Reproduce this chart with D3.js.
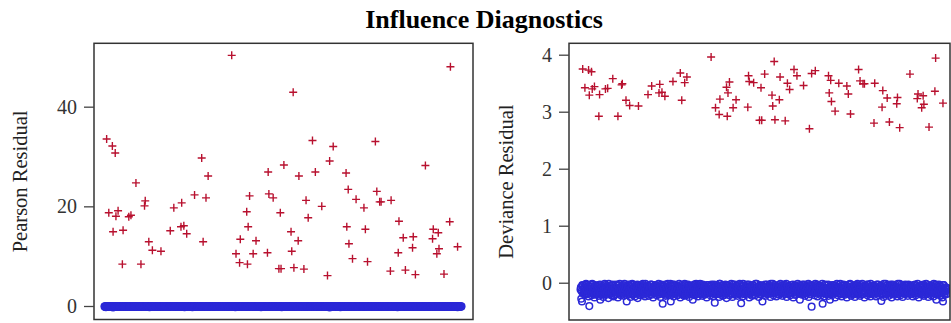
<!DOCTYPE html>
<html>
<head>
<meta charset="utf-8">
<script src="https://cdn.jsdelivr.net/npm/d3@7"></script>
<style>
  body { margin: 0; background: #fff; }
  svg { display: block; font-family: "Liberation Serif", "Times New Roman", serif; }
</style>
</head>
<body>
<svg id="chart" width="951" height="323"></svg>
<script>
const titleText = "Influence Diagnostics";
const pearsonTicks = [0, 20, 40];
const devianceTicks = [0, 1, 2, 3, 4];
const obsCount = 1000;

// observations with the event (red crosses)
const eventObs = [7,13,23,25,31,33,39,53,51,69,75,89,103,115,113,125,135,159,185,195,217,215,223,231,253,273,277,285,291,
  357,369,379,381,399,403,401,407,417,425,457,459,461,473,489,493,495,503,523,525,529,531,543,545,559,565,571,583,591,609,625,631,641,
  677,679,683,685,695,705,727,731,737,759,763,771,775,803,801,823,825,837,843,863,865,871,899,921,919,931,935,937,951,967,969,989];
const eventPearson = [33.5,18.7,32.1,14.9,30.7,18.0,19.1,15.2,8.4,17.9,18.2,24.7,8.4,21.1,20.1,12.9,11.2,11.0,15.1,19.7,20.7,15.9,16.1,14.5,22.3,29.7,12.9,21.7,26.1,
  50.3,10.5,8.7,13.4,18.9,15.9,8.4,22.1,10.5,13.1,10.7,26.9,22.5,21.7,7.5,18.7,7.5,28.3,14.9,11.0,42.9,7.7,13.1,26.1,7.4,21.2,17.7,33.2,26.9,20.0,6.1,29.1,32.0,
  26.7,15.9,23.4,12.5,9.5,21.4,19.7,15.4,8.9,33.0,23.0,20.9,20.9,21.2,7.0,10.7,17.0,13.7,7.2,11.7,13.9,6.3,28.2,15.4,13.5,10.5,14.7,11.5,6.4,16.9,48.0,11.9];
const eventDeviance = [3.75,3.42,3.73,3.29,3.70,3.40,3.44,3.30,2.92,3.40,3.41,3.58,2.92,3.49,3.47,3.20,3.11,3.10,3.30,3.45,3.48,3.33,3.34,3.27,3.53,3.68,3.20,3.51,3.61,
  3.96,3.07,2.95,3.22,3.43,3.33,2.92,3.52,3.07,3.21,3.08,3.63,3.53,3.51,2.85,3.42,2.85,3.66,3.29,3.10,3.88,2.86,3.21,3.61,2.84,3.50,3.39,3.74,3.63,3.46,2.70,3.67,3.72,
  3.63,3.33,3.55,3.18,3.01,3.50,3.45,3.31,2.96,3.74,3.54,3.49,3.49,3.50,2.80,3.08,3.37,3.24,2.82,3.14,3.25,2.72,3.66,3.31,3.23,3.07,3.28,3.13,2.73,3.36,3.94,3.15];

// observations without the event (blue circles)
// odd-numbered obs: 1, 3, 5, ...
const nonEventDevOdd = [
  -.12,-.28,-.33,-.05,-.17,-.09,-.21,-.14,-.03,-.19,-.11,-.24,-.41,-.07,-.15,-.22,-.02,-.18,-.10,-.26,-.13,-.06,-.20,-.16,-.08,
  -.23,-.04,-.30,-.12,-.17,-.09,-.25,-.14,-.02,-.19,-.21,-.07,-.13,-.27,-.11,-.05,-.18,-.22,-.15,-.03,-.24,-.10,-.16,-.08,-.20,
  -.13,-.26,-.04,-.19,-.11,-.22,-.06,-.17,-.14,-.23,-.02,-.18,-.09,-.33,-.12,-.20,-.05,-.15,-.25,-.10,-.03,-.21,-.16,-.07,-.24,
  -.12,-.18,-.04,-.27,-.09,-.15,-.22,-.06,-.13,-.20,-.02,-.17,-.11,-.24,-.08,-.19,-.14,-.05,-.23,-.10,-.16,-.03,-.21,-.12,-.26,
  -.07,-.18,-.13,-.04,-.22,-.15,-.09,-.20,-.11,-.25,-.03,-.16,-.37,-.06,-.19,-.12,-.23,-.08,-.14,-.02,-.21,-.17,-.10,-.33,-.05,
  -.16,-.11,-.24,-.03,-.19,-.08,-.14,-.22,-.06,-.17,-.12,-.26,-.04,-.20,-.10,-.15,-.23,-.02,-.18,-.09,-.21,-.13,-.05,-.25,-.11,
  -.17,-.07,-.20,-.30,-.14,-.03,-.22,-.10,-.18,-.06,-.24,-.12,-.16,-.02,-.19,-.09,-.23,-.13,-.05,-.21,-.15,-.08,-.26,-.11,-.04,
  -.18,-.12,-.22,-.06,-.15,-.09,-.24,-.03,-.35,-.17,-.11,-.20,-.07,-.14,-.25,-.02,-.19,-.10,-.16,-.23,-.05,-.13,-.21,-.08,-.27,
  -.04,-.16,-.11,-.22,-.07,-.19,-.13,-.25,-.03,-.17,-.09,-.21,-.14,-.06,-.23,-.10,-.18,-.02,-.15,-.36,-.12,-.24,-.05,-.20,-.08,
  -.14,-.21,-.03,-.17,-.10,-.26,-.06,-.19,-.12,-.23,-.04,-.15,-.09,-.22,-.13,-.02,-.18,-.11,-.25,-.07,-.16,-.20,-.05,-.33,-.12,
  -.19,-.08,-.23,-.14,-.03,-.20,-.11,-.17,-.06,-.25,-.10,-.15,-.02,-.22,-.13,-.18,-.07,-.24,-.09,-.16,-.04,-.21,-.12,-.19,-.06,
  -.23,-.11,-.16,-.03,-.20,-.09,-.25,-.14,-.07,-.18,-.12,-.22,-.04,-.17,-.10,-.26,-.13,-.05,-.21,-.08,-.15,-.02,-.19,-.11,-.30,
  -.14,-.06,-.21,-.10,-.17,-.03,-.23,-.12,-.19,-.08,-.15,-.25,-.04,-.20,-.11,-.42,-.07,-.18,-.13,-.22,-.02,-.16,-.09,-.24,-.12,
  -.05,-.19,-.14,-.22,-.08,-.37,-.11,-.24,-.03,-.16,-.20,-.09,-.13,-.23,-.17,-.30,-.06,-.18,-.12,-.21,-.04,-.15,-.26,-.10,-.17,
  -.07,-.22,-.13,-.19,-.02,-.16,-.24,-.10,-.18,-.05,-.21,-.12,-.15,-.26,-.08,-.20,-.03,-.17,-.11,-.23,-.14,-.06,-.19,-.09,-.25,
  -.12,-.18,-.04,-.21,-.15,-.08,-.23,-.11,-.17,-.02,-.20,-.13,-.26,-.06,-.16,-.10,-.22,-.03,-.19,-.14,-.24,-.07,-.18,-.12,-.05,
  -.21,-.09,-.16,-.24,-.03,-.18,-.11,-.22,-.14,-.06,-.32,-.19,-.08,-.25,-.13,-.17,-.02,-.20,-.10,-.15,-.23,-.05,-.18,-.12,-.26,
  -.09,-.16,-.04,-.21,-.13,-.19,-.07,-.24,-.11,-.17,-.02,-.22,-.14,-.08,-.25,-.12,-.18,-.05,-.20,-.15,-.10,-.23,-.03,-.17,-.13,
  -.20,-.06,-.15,-.24,-.11,-.18,-.03,-.22,-.14,-.09,-.19,-.26,-.07,-.16,-.12,-.21,-.04,-.17,-.23,-.10,-.15,-.02,-.20,-.13,-.25,
  -.08,-.18,-.12,-.22,-.05,-.16,-.24,-.10,-.19,-.03,-.30,-.14,-.21,-.09,-.17,-.06,-.23,-.12,-.26,-.33,-.04,-.19,-.15,-.11,-.20
];
const nonEventPearOdd = [
  -.09,-.20,-.23,-.04,-.12,-.06,-.15,-.10,-.02,-.13,-.08,-.17,-.29,-.05,-.11,-.16,-.01,-.13,-.07,-.18,-.09,-.04,-.14,-.11,-.06,
  -.16,-.03,-.21,-.09,-.12,-.06,-.18,-.10,-.01,-.13,-.15,-.05,-.09,-.19,-.08,-.04,-.13,-.16,-.11,-.02,-.17,-.07,-.11,-.06,-.14,
  -.09,-.18,-.03,-.13,-.08,-.16,-.04,-.12,-.10,-.16,-.01,-.13,-.06,-.23,-.09,-.14,-.04,-.11,-.18,-.07,-.02,-.15,-.11,-.05,-.17,
  -.09,-.13,-.03,-.19,-.06,-.11,-.16,-.04,-.09,-.14,-.01,-.12,-.08,-.17,-.06,-.13,-.10,-.04,-.16,-.07,-.11,-.02,-.15,-.09,-.18,
  -.05,-.13,-.09,-.03,-.16,-.11,-.06,-.14,-.08,-.18,-.02,-.11,-.26,-.04,-.13,-.09,-.16,-.06,-.10,-.01,-.15,-.12,-.07,-.23,-.04,
  -.11,-.08,-.17,-.02,-.13,-.06,-.10,-.16,-.04,-.12,-.09,-.18,-.03,-.14,-.07,-.11,-.16,-.01,-.13,-.06,-.15,-.09,-.04,-.18,-.08,
  -.12,-.05,-.14,-.21,-.10,-.02,-.16,-.07,-.13,-.04,-.17,-.09,-.11,-.01,-.13,-.06,-.16,-.09,-.04,-.15,-.11,-.06,-.18,-.08,-.03,
  -.13,-.09,-.16,-.04,-.11,-.06,-.17,-.02,-.25,-.12,-.08,-.14,-.05,-.10,-.18,-.01,-.13,-.07,-.11,-.16,-.04,-.09,-.15,-.06,-.19,
  -.03,-.11,-.08,-.16,-.05,-.13,-.09,-.18,-.02,-.12,-.06,-.15,-.10,-.04,-.16,-.07,-.13,-.01,-.11,-.26,-.09,-.17,-.04,-.14,-.06,
  -.10,-.15,-.02,-.12,-.07,-.18,-.04,-.13,-.09,-.16,-.03,-.11,-.06,-.16,-.09,-.01,-.13,-.08,-.18,-.05,-.11,-.14,-.04,-.23,-.09,
  -.13,-.06,-.16,-.10,-.02,-.14,-.08,-.12,-.04,-.18,-.07,-.11,-.01,-.16,-.09,-.13,-.05,-.17,-.06,-.11,-.03,-.15,-.09,-.13,-.04,
  -.16,-.08,-.11,-.02,-.14,-.06,-.18,-.10,-.05,-.13,-.09,-.16,-.03,-.12,-.07,-.18,-.09,-.04,-.15,-.06,-.11,-.01,-.13,-.08,-.21,
  -.10,-.04,-.15,-.07,-.12,-.02,-.16,-.09,-.13,-.06,-.11,-.18,-.03,-.14,-.08,-.30,-.05,-.13,-.09,-.16,-.01,-.11,-.06,-.17,-.09,
  -.04,-.13,-.10,-.16,-.06,-.26,-.08,-.17,-.02,-.11,-.14,-.06,-.09,-.16,-.12,-.21,-.04,-.13,-.09,-.15,-.03,-.11,-.18,-.07,-.12,
  -.05,-.16,-.09,-.13,-.01,-.11,-.17,-.07,-.13,-.04,-.15,-.09,-.11,-.18,-.06,-.14,-.02,-.12,-.08,-.16,-.10,-.04,-.13,-.06,-.18,
  -.09,-.13,-.03,-.15,-.11,-.06,-.16,-.08,-.12,-.01,-.14,-.09,-.18,-.04,-.11,-.07,-.16,-.02,-.13,-.10,-.17,-.05,-.13,-.09,-.04,
  -.15,-.06,-.11,-.17,-.02,-.13,-.08,-.16,-.10,-.04,-.23,-.13,-.06,-.18,-.09,-.12,-.01,-.14,-.07,-.11,-.16,-.04,-.13,-.09,-.18,
  -.06,-.11,-.03,-.15,-.09,-.13,-.05,-.17,-.08,-.12,-.01,-.16,-.10,-.06,-.18,-.09,-.13,-.04,-.14,-.11,-.07,-.16,-.02,-.12,-.09,
  -.14,-.04,-.11,-.17,-.08,-.13,-.02,-.16,-.10,-.06,-.13,-.18,-.05,-.11,-.09,-.15,-.03,-.12,-.16,-.07,-.11,-.01,-.14,-.09,-.18,
  -.06,-.13,-.09,-.16,-.04,-.11,-.17,-.07,-.13,-.02,-.21,-.10,-.15,-.06,-.12,-.04,-.16,-.09,-.18,-.23,-.03,-.13,-.11,-.08,-.14
];
// even-numbered obs: 2, 4, 6, ...
const nonEventDevEven = [
  -.08,-.15,-.04,-.19,-.11,-.06,-.16,-.02,-.13,-.20,-.09,-.05,-.17,-.12,-.03,-.18,-.10,-.14,-.07,-.21,-.04,-.15,-.11,-.19,-.06,
  -.14,-.03,-.18,-.09,-.21,-.06,-.12,-.16,-.04,-.10,-.19,-.07,-.15,-.02,-.13,-.20,-.08,-.17,-.05,-.11,-.22,-.09,-.14,-.03,-.17,
  -.05,-.17,-.10,-.02,-.15,-.20,-.08,-.13,-.04,-.18,-.11,-.06,-.21,-.14,-.09,-.03,-.16,-.12,-.19,-.07,-.02,-.14,-.20,-.10,-.05,
  -.16,-.09,-.03,-.20,-.12,-.06,-.18,-.14,-.04,-.10,-.21,-.07,-.15,-.02,-.19,-.11,-.05,-.17,-.13,-.08,-.20,-.03,-.16,-.09,-.14,
  -.10,-.04,-.19,-.13,-.07,-.17,-.02,-.15,-.20,-.06,-.12,-.18,-.05,-.10,-.16,-.03,-.21,-.09,-.14,-.19,-.06,-.11,-.02,-.15,-.18,
  -.03,-.20,-.07,-.14,-.10,-.18,-.05,-.12,-.21,-.02,-.16,-.08,-.19,-.13,-.06,-.17,-.04,-.11,-.22,-.09,-.15,-.03,-.18,-.07,-.13,
  -.19,-.11,-.05,-.16,-.08,-.21,-.13,-.02,-.17,-.10,-.04,-.14,-.20,-.07,-.12,-.18,-.03,-.15,-.09,-.06,-.19,-.13,-.04,-.17,-.10,
  -.07,-.15,-.19,-.03,-.12,-.17,-.06,-.20,-.10,-.14,-.04,-.18,-.09,-.13,-.02,-.16,-.21,-.05,-.11,-.08,-.19,-.14,-.03,-.17,-.10,
  -.13,-.05,-.18,-.09,-.15,-.02,-.20,-.11,-.07,-.16,-.03,-.19,-.12,-.06,-.17,-.10,-.04,-.14,-.21,-.08,-.13,-.02,-.16,-.10,-.19,
  -.06,-.17,-.10,-.14,-.03,-.19,-.08,-.12,-.16,-.05,-.21,-.09,-.14,-.02,-.18,-.11,-.07,-.15,-.20,-.04,-.13,-.10,-.17,-.06,-.15,
  -.12,-.03,-.17,-.07,-.20,-.14,-.05,-.10,-.18,-.02,-.13,-.19,-.08,-.15,-.04,-.16,-.11,-.06,-.20,-.13,-.09,-.17,-.02,-.14,-.08,
  -.04,-.18,-.09,-.15,-.11,-.02,-.17,-.06,-.20,-.13,-.07,-.16,-.10,-.19,-.03,-.14,-.08,-.21,-.05,-.12,-.17,-.09,-.14,-.04,-.16,
  -.17,-.10,-.03,-.14,-.19,-.08,-.15,-.05,-.11,-.18,-.02,-.12,-.20,-.07,-.16,-.04,-.13,-.09,-.19,-.06,-.15,-.10,-.03,-.17,-.08,
  -.11,-.16,-.06,-.19,-.02,-.13,-.17,-.09,-.14,-.05,-.18,-.10,-.03,-.15,-.20,-.07,-.12,-.16,-.04,-.09,-.19,-.13,-.06,-.14,-.02,
  -.15,-.04,-.18,-.08,-.12,-.20,-.06,-.14,-.03,-.17,-.10,-.16,-.05,-.19,-.11,-.07,-.15,-.02,-.13,-.18,-.08,-.20,-.12,-.04,-.16,
  -.09,-.14,-.02,-.17,-.06,-.19,-.11,-.04,-.15,-.20,-.08,-.13,-.05,-.18,-.10,-.03,-.16,-.12,-.07,-.20,-.02,-.15,-.09,-.17,-.11,
  -.16,-.06,-.13,-.19,-.09,-.03,-.15,-.11,-.18,-.05,-.14,-.08,-.20,-.02,-.17,-.12,-.06,-.19,-.04,-.13,-.16,-.09,-.03,-.20,-.10,
  -.03,-.19,-.12,-.07,-.17,-.10,-.14,-.02,-.20,-.08,-.15,-.04,-.11,-.18,-.06,-.13,-.16,-.03,-.19,-.09,-.14,-.05,-.17,-.11,-.20,
  -.12,-.08,-.20,-.04,-.16,-.13,-.06,-.18,-.10,-.02,-.15,-.11,-.19,-.05,-.14,-.08,-.17,-.03,-.20,-.12,-.07,-.16,-.09,-.14,-.04,
  -.17,-.11,-.05,-.14,-.19,-.08,-.02,-.16,-.12,-.20,-.06,-.15,-.09,-.03,-.18,-.13,-.07,-.17,-.10,-.04,-.15,-.21,-.08,-.13,-.09
];
const nonEventPearEven = [
  -.06,-.11,-.03,-.13,-.08,-.04,-.11,-.01,-.09,-.14,-.06,-.04,-.12,-.09,-.02,-.13,-.07,-.10,-.05,-.15,-.03,-.11,-.08,-.13,-.04,
  -.10,-.02,-.13,-.06,-.15,-.04,-.09,-.11,-.03,-.07,-.13,-.05,-.11,-.01,-.09,-.14,-.06,-.12,-.04,-.08,-.16,-.06,-.10,-.02,-.12,
  -.04,-.12,-.07,-.01,-.11,-.14,-.06,-.09,-.03,-.13,-.08,-.04,-.15,-.10,-.06,-.02,-.11,-.09,-.13,-.05,-.01,-.10,-.14,-.07,-.04,
  -.11,-.06,-.02,-.14,-.09,-.04,-.13,-.10,-.03,-.07,-.15,-.05,-.11,-.01,-.13,-.08,-.04,-.12,-.09,-.06,-.14,-.02,-.11,-.06,-.10,
  -.07,-.03,-.13,-.09,-.05,-.12,-.01,-.11,-.14,-.04,-.09,-.13,-.04,-.07,-.11,-.02,-.15,-.06,-.10,-.13,-.04,-.08,-.01,-.11,-.13,
  -.02,-.14,-.05,-.10,-.07,-.13,-.04,-.09,-.15,-.01,-.11,-.06,-.13,-.09,-.04,-.12,-.03,-.08,-.16,-.06,-.11,-.02,-.13,-.05,-.09,
  -.13,-.08,-.04,-.11,-.06,-.15,-.09,-.01,-.12,-.07,-.03,-.10,-.14,-.05,-.09,-.13,-.02,-.11,-.06,-.04,-.13,-.09,-.03,-.12,-.07,
  -.05,-.11,-.13,-.02,-.09,-.12,-.04,-.14,-.07,-.10,-.03,-.13,-.06,-.09,-.01,-.11,-.15,-.04,-.08,-.06,-.13,-.10,-.02,-.12,-.07,
  -.09,-.04,-.13,-.06,-.11,-.01,-.14,-.08,-.05,-.11,-.02,-.13,-.09,-.04,-.12,-.07,-.03,-.10,-.15,-.06,-.09,-.01,-.11,-.07,-.13,
  -.04,-.12,-.07,-.10,-.02,-.13,-.06,-.09,-.11,-.04,-.15,-.06,-.10,-.01,-.13,-.08,-.05,-.11,-.14,-.03,-.09,-.07,-.12,-.04,-.11,
  -.09,-.02,-.12,-.05,-.14,-.10,-.04,-.07,-.13,-.01,-.09,-.13,-.06,-.11,-.03,-.11,-.08,-.04,-.14,-.09,-.06,-.12,-.01,-.10,-.06,
  -.03,-.13,-.06,-.11,-.08,-.01,-.12,-.04,-.14,-.09,-.05,-.11,-.07,-.13,-.02,-.10,-.06,-.15,-.04,-.09,-.12,-.06,-.10,-.03,-.11,
  -.12,-.07,-.02,-.10,-.13,-.06,-.11,-.04,-.08,-.13,-.01,-.09,-.14,-.05,-.11,-.03,-.09,-.06,-.13,-.04,-.11,-.07,-.02,-.12,-.06,
  -.08,-.11,-.04,-.13,-.01,-.09,-.12,-.06,-.10,-.04,-.13,-.07,-.02,-.11,-.14,-.05,-.09,-.11,-.03,-.06,-.13,-.09,-.04,-.10,-.01,
  -.11,-.03,-.13,-.06,-.09,-.14,-.04,-.10,-.02,-.12,-.07,-.11,-.04,-.13,-.08,-.05,-.11,-.01,-.09,-.13,-.06,-.14,-.09,-.03,-.11,
  -.06,-.10,-.01,-.12,-.04,-.13,-.08,-.03,-.11,-.14,-.06,-.09,-.04,-.13,-.07,-.02,-.11,-.09,-.05,-.14,-.01,-.11,-.06,-.12,-.08,
  -.11,-.04,-.09,-.13,-.06,-.02,-.11,-.08,-.13,-.04,-.10,-.06,-.14,-.01,-.12,-.09,-.04,-.13,-.03,-.09,-.11,-.06,-.02,-.14,-.07,
  -.02,-.13,-.09,-.05,-.12,-.07,-.10,-.01,-.14,-.06,-.11,-.03,-.08,-.13,-.04,-.09,-.11,-.02,-.13,-.06,-.10,-.04,-.12,-.08,-.14,
  -.09,-.06,-.14,-.03,-.11,-.09,-.04,-.13,-.07,-.01,-.11,-.08,-.13,-.04,-.10,-.06,-.12,-.02,-.14,-.09,-.05,-.11,-.06,-.10,-.03,
  -.12,-.08,-.04,-.10,-.13,-.06,-.01,-.11,-.09,-.14,-.04,-.11,-.06,-.02,-.13,-.09,-.05,-.12,-.07,-.03,-.11,-.15,-.06,-.09,-.06
];

const redColor = "#b8112f";
const blueColor = "#2b28d7";

const panels = [
  { label: "Pearson Residual", ticks: pearsonTicks, red: eventPearson, blueOdd: nonEventPearOdd, blueEven: nonEventPearEven,
    left: 94, right: 473, top: 43.3, bottom: 319.5, xRange: [104.5, 461.5],
    yDomain: [-2.71, 52.72], labelX: 26.5 },
  { label: "Deviance Residual", ticks: devianceTicks, red: eventDeviance, blueOdd: nonEventDevOdd, blueEven: nonEventDevEven,
    left: 569, right: 950, top: 43.3, bottom: 320, xRange: [580.5, 947],
    yDomain: [-0.654, 4.2], labelX: 513 }
];

const svg = d3.select("#chart");

svg.append("text")
  .attr("x", 484)
  .attr("y", 28)
  .attr("text-anchor", "middle")
  .attr("font-size", 26)
  .attr("font-weight", "bold")
  .attr("fill", "#000")
  .text(titleText);

panels.forEach((p, k) => {
  const x = d3.scaleLinear().domain([1, obsCount]).range(p.xRange);
  const y = d3.scaleLinear().domain(p.yDomain).range([p.bottom, p.top]);

  svg.append("clipPath")
    .attr("id", "clip" + k)
    .append("rect")
    .attr("x", p.left).attr("y", p.top)
    .attr("width", p.right - p.left).attr("height", p.bottom - p.top);

  const plot = svg.append("g").attr("clip-path", `url(#clip${k})`);

  const blue = p.blueOdd.map((v, i) => ({ obs: 2 * i + 1, v }))
    .concat(p.blueEven.map((v, i) => ({ obs: 2 * i + 2, v })));

  plot.append("g")
    .selectAll("circle")
    .data(blue)
    .enter()
    .append("circle")
    .attr("cx", d => x(d.obs))
    .attr("cy", d => y(d.v))
    .attr("r", 3.3)
    .attr("fill", "none")
    .attr("stroke", blueColor)
    .attr("stroke-width", 1.5);

  plot.append("g")
    .selectAll("path")
    .data(p.red)
    .enter()
    .append("path")
    .attr("transform", (d, i) => `translate(${x(eventObs[i])},${y(d)})`)
    .attr("d", "M-4,0H4M0,-4V4")
    .attr("fill", "none")
    .attr("stroke", redColor)
    .attr("stroke-width", 1.4);

  // frame
  svg.append("rect")
    .attr("x", p.left).attr("y", p.top)
    .attr("width", p.right - p.left).attr("height", p.bottom - p.top)
    .attr("fill", "none")
    .attr("stroke", "#333")
    .attr("stroke-width", 1.5);

  const axis = svg.append("g")
    .attr("transform", `translate(${p.left},0)`)
    .call(d3.axisLeft(y).tickValues(p.ticks).tickSize(10).tickPadding(7).tickFormat(d3.format("d")));
  axis.select(".domain").remove();
  axis.selectAll(".tick line").attr("stroke", "#444").attr("stroke-width", 1.3);
  axis.selectAll(".tick text")
    .attr("fill", "#333")
    .attr("font-size", 20)
    .attr("font-family", "'Liberation Serif', 'Times New Roman', serif");

  svg.append("text")
    .attr("transform", `translate(${p.labelX},${(p.top + p.bottom) / 2}) rotate(-90)`)
    .attr("text-anchor", "middle")
    .attr("font-size", 20.5)
    .attr("fill", "#222")
    .text(p.label);
});
</script>
</body>
</html>
